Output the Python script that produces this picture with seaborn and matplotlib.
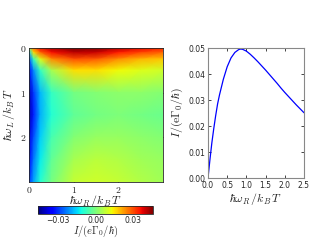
import numpy as np
import seaborn as sns
import matplotlib
matplotlib.use("Agg")
import matplotlib.pyplot as plt

# grid of the 2D current map
wr_grid = [0.0, 0.1, 0.25, 0.5, 1.0, 1.5, 2.0, 2.5, 3.0]   # hbar w_R / k_B T
wl_grid = [0.0, 0.1, 0.25, 0.5, 1.0, 1.5, 2.0, 2.5, 3.0]   # hbar w_L / k_B T
current_map = [
    [0.008, 0.026, 0.036, 0.042, 0.046, 0.045, 0.041, 0.037, 0.034],
    [-0.015, 0.016, 0.028, 0.036, 0.041, 0.040, 0.035, 0.031, 0.028],
    [-0.028, -0.008, 0.011, 0.024, 0.030, 0.029, 0.024, 0.020, 0.018],
    [-0.034, -0.022, -0.008, 0.005, 0.016, 0.016, 0.013, 0.011, 0.009],
    [-0.041, -0.030, -0.018, -0.008, -0.001, 0.001, 0.002, 0.002, 0.001],
    [-0.042, -0.032, -0.019, -0.010, -0.003, -0.001, 0.000, -0.001, -0.002],
    [-0.038, -0.028, -0.016, -0.006, 0.001, 0.003, 0.003, 0.002, 0.001],
    [-0.034, -0.024, -0.013, -0.003, 0.005, 0.007, 0.006, 0.004, 0.003],
    [-0.030, -0.020, -0.010, -0.001, 0.008, 0.009, 0.008, 0.006, 0.004],
]

# line cut
wr_line = [0.0, 0.05, 0.1, 0.15, 0.2, 0.25, 0.3, 0.4, 0.5, 0.6, 0.7, 0.8, 0.85,
           0.9, 1.0, 1.1, 1.2, 1.3, 1.4, 1.5, 1.6, 1.7, 1.8, 1.9, 2.0, 2.1,
           2.2, 2.3, 2.4, 2.5]
current_line = [0.0, 0.007, 0.0135, 0.019, 0.024, 0.0285, 0.032, 0.038, 0.0428,
                0.0462, 0.0483, 0.0494, 0.0496, 0.0495, 0.0488, 0.0476, 0.0462,
                0.0447, 0.0431, 0.0415, 0.0398, 0.0381, 0.0364, 0.0346, 0.0329,
                0.0313, 0.0297, 0.0281, 0.0266, 0.0251]

sns.set_style("ticks")
plt.rcParams["mathtext.fontset"] = "cm"
plt.rcParams["xtick.direction"] = "in"
plt.rcParams["ytick.direction"] = "in"

fig = plt.figure(figsize=(3.2, 2.4), dpi=100)

# 1. MAP
ax1 = fig.add_axes([29 / 320, 1 - 182 / 240, 134 / 320, 134 / 240])
X, Y = np.meshgrid(wr_grid, wl_grid)
mesh = ax1.pcolormesh(X, Y, np.array(current_map), shading="gouraud",
                      cmap="jet", vmin=-0.046, vmax=0.046)
ax1.set_xlim(0, 3)
ax1.set_ylim(3, 0)
ax1.set_xticks([0, 1, 2])
ax1.set_yticks([0, 1, 2])
ax1.set_xticklabels(["$0$", "$1$", "$2$"], fontsize=7)
ax1.set_yticklabels(["$0$", "$1$", "$2$"], fontsize=7)
ax1.tick_params(length=2, width=0.6, top=True, right=True, pad=2)
ax1.set_xlabel(r"$\hbar\omega_R\,/k_B\,T$", fontsize=8.5, labelpad=-1)
ax1.set_ylabel(r"$\hbar\omega_L\,/k_B\,T$", fontsize=8.5, labelpad=2)
for s in ax1.spines.values():
    s.set_linewidth(0.6)

cax = fig.add_axes([38 / 320, 1 - 214 / 240, 115 / 320, 8 / 240])
cb = fig.colorbar(mesh, cax=cax, orientation="horizontal",
                  ticks=[-0.03, 0.0, 0.03])
cb.ax.tick_params(labelsize=5.5, length=0, pad=1.5)
cb.ax.set_xticklabels(["\u22120.03", "0.00", "0.03"])
cb.set_label(r"$I/(e\Gamma_0/\hbar)$", fontsize=7.5, labelpad=-1)
cb.outline.set_linewidth(0.6)

# 2. LINE CUT
ax2 = fig.add_axes([208 / 320, 1 - 178 / 240, 96 / 320, 130 / 240])
sns.lineplot(x=wr_line, y=current_line, ax=ax2, color="#0000ff", lw=0.9)
ax2.set_xlim(0, 2.5)
ax2.set_ylim(0, 0.05)
ax2.set_xticks([0, 0.5, 1.0, 1.5, 2.0, 2.5])
ax2.set_yticks([0, 0.01, 0.02, 0.03, 0.04, 0.05])
ax2.set_xticklabels(["0.0", "0.5", "1.0", "1.5", "2.0", "2.5"])
ax2.set_yticklabels(["0.00", "0.01", "0.02", "0.03", "0.04", "0.05"])
ax2.tick_params(labelsize=5.5, length=2, width=0.6, top=True, right=True, pad=2)
ax2.set_xlabel(r"$\hbar\omega_R\,/k_B\,T$", fontsize=8.5, labelpad=1)
ax2.set_ylabel(r"$I/(\mathrm{e}\Gamma_0/\hbar)$", fontsize=8.5, labelpad=2)
for s in ax2.spines.values():
    s.set_linewidth(0.8)
    s.set_color("#888888")

fig.savefig("out.png", dpi=100)
